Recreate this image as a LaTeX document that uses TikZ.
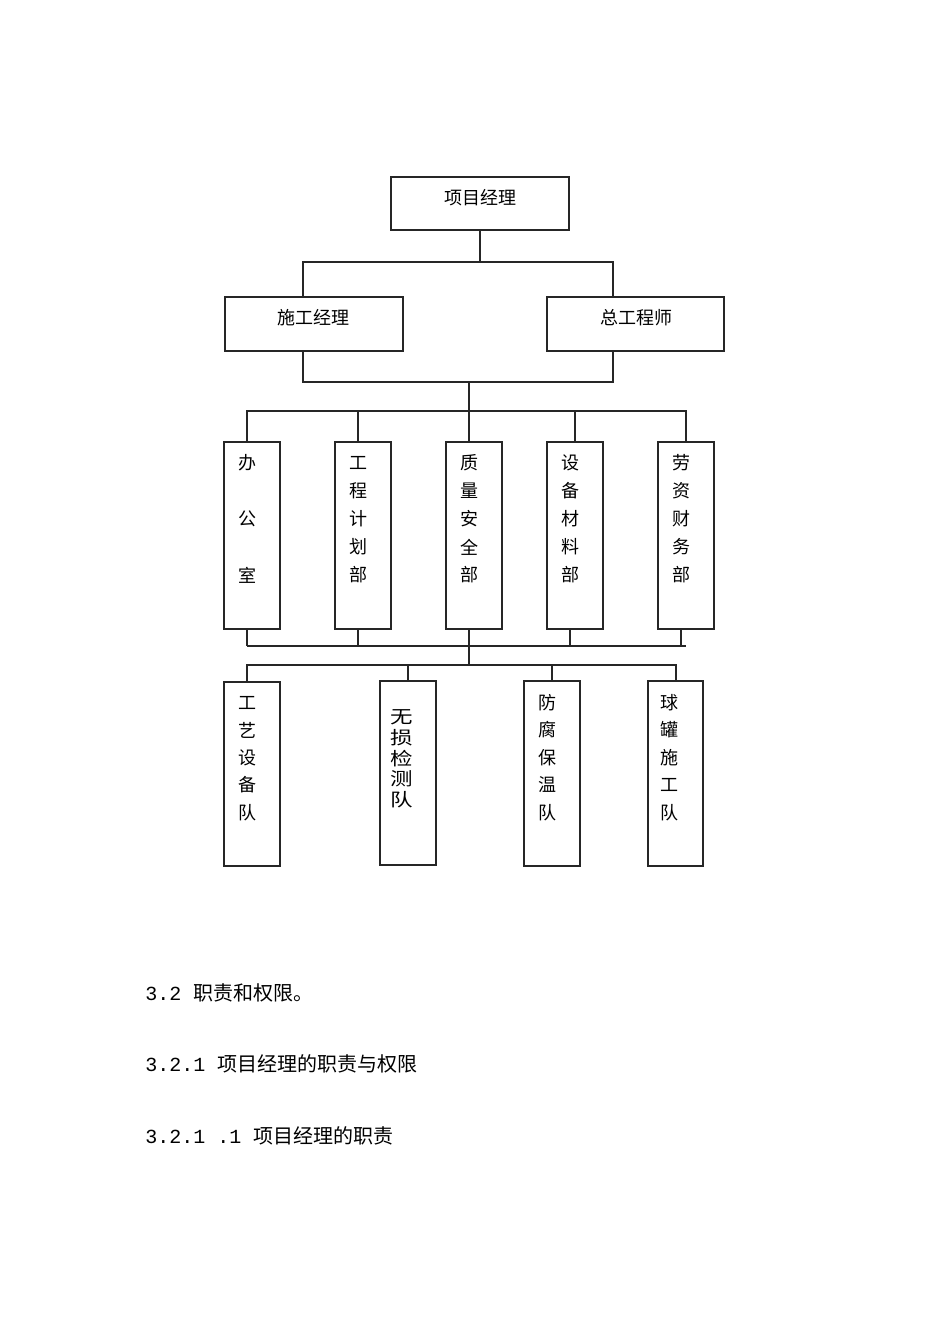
\documentclass[tikz,border=0pt]{standalone}
\usepackage{fontspec}
\newfontfamily\cjk{Noto Sans CJK SC}
\newfontfamily\mono{Liberation Mono}
\begin{document}
\begin{tikzpicture}[x=0.75pt,y=-0.75pt,
  bx/.style={draw=black!85,line width=1.1pt},
  ln/.style={draw=black!85,line width=1.1pt},
  t/.style={font=\cjk\fontsize{13.5}{14}\selectfont,inner sep=0pt},
  b/.style={font=\cjk\fontsize{15}{16}\selectfont,inner sep=0pt,anchor=west}]
\useasboundingbox (0,0) rectangle (950,1344);
% top
\draw[bx] (391,177) rectangle (569,230); \node[t] (pm) at (480,198) {项目经理};
\draw[bx] (225,297) rectangle (403,351); \node[t] (sg) at (313,318) {施工经理};
\draw[bx] (547,297) rectangle (724,351); \node[t] (zg) at (636,318) {总工程师};
\draw[ln] (480,230) -- (480,262) (303,297) -- (303,262) -- (613,262) -- (613,297);
\draw[ln] (303,351) -- (303,382) -- (613,382) -- (613,351);
\draw[ln] (469,382) -- (469,411);
\draw[ln] (247,442) -- (247,411) -- (686,411) -- (686,442);
\foreach \x in {358,469,575} \draw[ln] (\x,411) -- (\x,442);
% row 2
\foreach \l/\c in {224/247,335/358,446/469,547/570,658/681}{
  \draw[bx] (\l,442) rectangle (\l+56,629);
  \draw[ln] (\c,629) -- (\c,646);}
\draw[ln] (247,646) -- (686,646);
\node[t] at (247,463) {办}; \node[t] at (247,519) {公}; \node[t] at (247,575) {室};
\foreach \ch [count=\i] in {工,程,计,划,部} \node[t] at (358,435+28*\i) {\ch};
\foreach \ch [count=\i] in {质,量,安,全,部} \node[t] at (469,435+28*\i) {\ch};
\foreach \ch [count=\i] in {设,备,材,料,部} \node[t] at (570,435+28*\i) {\ch};
\foreach \ch [count=\i] in {劳,资,财,务,部} \node[t] at (681,435+28*\i) {\ch};
% row 3
\draw[ln] (469,646) -- (469,665);
\draw[ln] (247,682) -- (247,665) -- (676,665) -- (676,681);
\foreach \x in {408,552} \draw[ln] (\x,665) -- (\x,681);
\draw[bx] (224,682) rectangle (280,866);
\draw[bx] (380,681) rectangle (436,865);
\draw[bx] (524,681) rectangle (580,866);
\draw[bx] (648,681) rectangle (703,866);
\foreach \ch [count=\i] in {工,艺,设,备,队} \node[t] at (247,675+27.5*\i) {\ch};
\foreach \ch [count=\i] in {无,损,检,测,队} \node[t,xscale=1.25,yscale=1.0] at (402,697+20.5*\i) {\ch};
\foreach \ch [count=\i] in {防,腐,保,温,队} \node[t] at (547,675+27.5*\i) {\ch};
\foreach \ch [count=\i] in {球,罐,施,工,队} \node[t] at (669,675+27.5*\i) {\ch};
% text
\node[b] (p1) at (145,993) {{\mono 3.2 }职责和权限。};
\node[b] (p2) at (145,1064) {{\mono 3.2.1 }项目经理的职责与权限};
\node[b] (p3) at (145,1136) {{\mono 3.2.1 .1 }项目经理的职责};
\end{tikzpicture}
\end{document}
